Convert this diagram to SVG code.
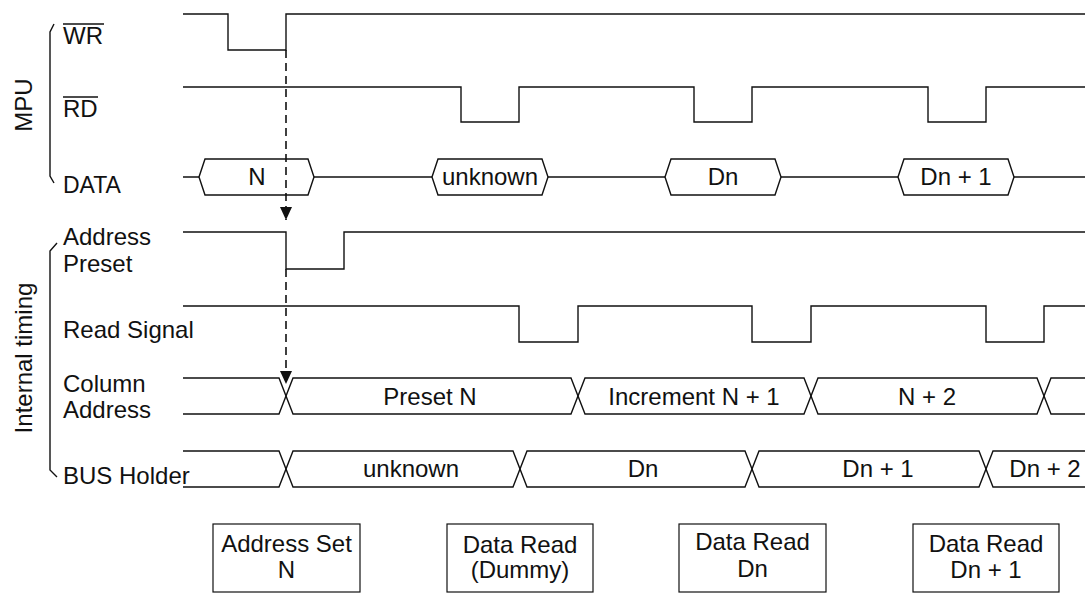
<svg xmlns="http://www.w3.org/2000/svg" width="1085" height="597" viewBox="0 0 1085 597">
<style>
.sig{fill:none;stroke:#111;stroke-width:1.4;stroke-linejoin:miter}
.lbl{font-family:"Liberation Sans",Arial,sans-serif;font-size:24px;fill:#111}
.mid{text-anchor:middle}
.box{fill:#fff;stroke:#111;stroke-width:1.2}
.dash{fill:none;stroke:#111;stroke-width:1.6;stroke-dasharray:8 5}
.ov{stroke:#111;stroke-width:1.3}
</style>
<defs>
<marker id="arr" markerUnits="userSpaceOnUse" viewBox="0 0 13 12" refX="13" refY="6" markerWidth="13" markerHeight="12" orient="auto">
<path d="M0,0 L13,6 L0,12 Z" fill="#111"/>
</marker>
</defs>
<rect width="1085" height="597" fill="#fff"/>

<g id="groups">
<path class="sig" d="M54,24 L50,32 V176 L54,183"/>
<text class="lbl mid" transform="translate(32,105) rotate(-90)">MPU</text>
<path class="sig" d="M57,243 L50,251 V470 L57,477"/>
<text class="lbl mid" transform="translate(32,358) rotate(-90)">Internal timing</text>
</g>

<g id="sig-wr">
<text class="lbl" x="63" y="44">WR</text>
<line class="ov" x1="63" y1="24" x2="104" y2="24"/>
<path class="sig" d="M183,14 H228 V50 H286 V14 H1085"/>
</g>

<g id="sig-rd">
<text class="lbl" x="63" y="117">RD</text>
<line class="ov" x1="63" y1="97" x2="98" y2="97"/>
<path class="sig" d="M183,87 H461 V122 H519 V87 H694 V122 H752 V87 H928 V122 H986 V87 H1085"/>
</g>

<g id="sig-data">
<text class="lbl" x="63" y="193" style="font-size:23px">DATA</text>
<path class="sig" d="M183,177 H199 M314,177 H432 M548,177 H665 M781,177 H898 M1014,177 H1085"/>
<path class="sig" d="M199,177 L205,159 H308 L314,177 L308,195 H205 Z"/>
<path class="sig" d="M432,177 L438,159 H542 L548,177 L542,195 H438 Z"/>
<path class="sig" d="M665,177 L671,159 H775 L781,177 L775,195 H671 Z"/>
<path class="sig" d="M898,177 L904,159 H1008 L1014,177 L1008,195 H904 Z"/>
<text class="lbl mid" x="257" y="185">N</text>
<text class="lbl mid" x="490" y="185">unknown</text>
<text class="lbl mid" x="723" y="185">Dn</text>
<text class="lbl mid" x="956" y="185">Dn + 1</text>
</g>

<g id="sig-preset">
<text class="lbl" x="63" y="245">Address</text>
<text class="lbl" x="63" y="272">Preset</text>
<path class="sig" d="M183,232 H286 V269 H344 V232 H1085"/>
</g>

<g id="sig-read">
<text class="lbl" x="63" y="338">Read Signal</text>
<path class="sig" d="M183,306 H519 V342 H578 V306 H752 V342 H811 V306 H986 V342 H1044 V306 H1085"/>
</g>

<g id="sig-column">
<text class="lbl" x="63" y="392">Column</text>
<text class="lbl" x="63" y="418">Address</text>
<path class="sig" d="M183,378 H279 L293,414 H571 L585,378 H804 L818,414 H1037 L1051,378 H1085"/>
<path class="sig" d="M183,414 H279 L293,378 H571 L585,414 H804 L818,378 H1037 L1051,414 H1085"/>
<text class="lbl mid" x="430" y="405">Preset N</text>
<text class="lbl mid" x="694" y="405">Increment N + 1</text>
<text class="lbl mid" x="927" y="405">N + 2</text>
</g>

<g id="sig-bus">
<text class="lbl" x="63" y="484">BUS Holder</text>
<path class="sig" d="M183,451 H279 L293,487 H513 L527,451 H745 L759,487 H979 L993,451 H1085"/>
<path class="sig" d="M183,487 H279 L293,451 H513 L527,487 H745 L759,451 H979 L993,487 H1085"/>
<text class="lbl mid" x="411" y="477">unknown</text>
<text class="lbl mid" x="643" y="477">Dn</text>
<text class="lbl mid" x="878" y="477">Dn + 1</text>
<text class="lbl mid" x="1045" y="477">Dn + 2</text>
</g>

<g id="connectors">
<line class="dash" x1="286" y1="50" x2="286" y2="220" marker-end="url(#arr)"/>
<line class="dash" x1="286" y1="269" x2="286" y2="384" marker-end="url(#arr)"/>
</g>

<g id="box-address-set">
<rect class="box" x="213" y="524" width="147" height="68"/>
<text class="lbl mid" x="286.5" y="552">Address Set</text>
<text class="lbl mid" x="286.5" y="578">N</text>
</g>
<g id="box-dummy">
<rect class="box" x="447" y="524" width="146" height="68"/>
<text class="lbl mid" x="520" y="553">Data Read</text>
<text class="lbl mid" x="520" y="578">(Dummy)</text>
</g>
<g id="box-dn">
<rect class="box" x="679" y="524" width="147" height="68"/>
<text class="lbl mid" x="752.5" y="550">Data Read</text>
<text class="lbl mid" x="752.5" y="577">Dn</text>
</g>
<g id="box-dn1">
<rect class="box" x="913" y="524" width="146" height="68"/>
<text class="lbl mid" x="986" y="552">Data Read</text>
<text class="lbl mid" x="986" y="578">Dn + 1</text>
</g>
</svg>
